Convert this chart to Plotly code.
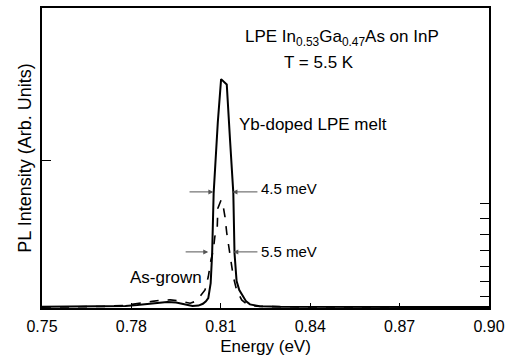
import plotly.graph_objects as go

# Data
energy_yb = [0.750, 0.770, 0.778, 0.782, 0.786, 0.789, 0.792, 0.795, 0.798, 0.8005, 0.8025, 0.804, 0.805,
             0.8058, 0.8066, 0.8071, 0.8076, 0.809, 0.8101, 0.8120, 0.8131, 0.8142, 0.8146, 0.8153, 0.8162,
             0.8170, 0.8185, 0.8198, 0.8230, 0.8300, 0.9000]
intensity_yb = [0.004, 0.005, 0.007, 0.010, 0.015, 0.018, 0.020, 0.018, 0.012, 0.007, 0.008, 0.014, 0.022,
                0.033, 0.083, 0.183, 0.383, 0.62, 0.763, 0.745, 0.56, 0.383, 0.183, 0.09, 0.06,
                0.045, 0.022, 0.012, 0.006, 0.004, 0.003]

energy_asgrown = [0.750, 0.770, 0.778, 0.783, 0.787, 0.790, 0.793, 0.796, 0.7985, 0.7997, 0.8015, 0.803,
                  0.8047, 0.8058, 0.8067, 0.8075, 0.808, 0.8088, 0.809, 0.8101, 0.8108, 0.8114, 0.812,
                  0.8131, 0.8142, 0.8153, 0.817, 0.8188, 0.822, 0.830, 0.900]
intensity_asgrown = [0.003, 0.005, 0.009, 0.015, 0.022, 0.026, 0.027, 0.024, 0.019, 0.016, 0.022, 0.038,
                     0.06, 0.104, 0.16, 0.193, 0.238, 0.266, 0.332, 0.36, 0.34, 0.304, 0.25,
                     0.183, 0.104, 0.06, 0.027, 0.012, 0.006, 0.004, 0.003]

x_ticks = [0.75, 0.78, 0.81, 0.84, 0.87, 0.90]
x_tick_labels = ["0.75", "0.78", "0.81", "0.84", "0.87", "0.90"]
left_ticks = [0.493]
right_ticks = [0.038, 0.09, 0.138, 0.191, 0.246, 0.297, 0.349]

FONT = "Liberation Sans, Arial, sans-serif"

fig = go.Figure()
fig.add_trace(go.Scatter(x=energy_asgrown, y=intensity_asgrown, mode="lines",
                         line=dict(color="black", width=1.6, dash="dash"), showlegend=False, hoverinfo="skip"))
fig.add_trace(go.Scatter(x=energy_yb, y=intensity_yb, mode="lines",
                         line=dict(color="black", width=2), showlegend=False, hoverinfo="skip"))
# dummy trace for the right-hand axis
fig.add_trace(go.Scatter(x=[0.75], y=[0], yaxis="y2", mode="markers", marker=dict(opacity=0),
                         showlegend=False, hoverinfo="skip"))

annotations = [
    dict(x=0.8507, y=0.90, text="LPE In<sub>0.53</sub>Ga<sub>0.47</sub>As on InP", showarrow=False,
         xanchor="center", yanchor="middle", font=dict(size=17)),
    dict(x=0.843, y=0.817, text="T = 5.5 K", showarrow=False, xanchor="center", yanchor="middle",
         font=dict(size=17)),
    dict(x=0.8154, y=0.613, text="Yb-doped LPE melt", showarrow=False, xanchor="left", yanchor="middle",
         font=dict(size=17)),
    dict(x=0.7789, y=0.103, text="As-grown", showarrow=False, xanchor="left", yanchor="middle",
         font=dict(size=17)),
    dict(x=0.8228, y=0.40, text="4.5 meV", showarrow=False, xanchor="left", yanchor="middle",
         font=dict(size=15)),
    dict(x=0.8228, y=0.19, text="5.5 meV", showarrow=False, xanchor="left", yanchor="middle",
         font=dict(size=15)),
]
arrows = [
    (0.7990, 0.8075, 0.387),
    (0.8228, 0.8139, 0.387),
    (0.7977, 0.8058, 0.187),
    (0.8228, 0.8142, 0.187),
]
for tail, tip, yv in arrows:
    annotations.append(dict(x=tip, y=yv, ax=tail, ay=yv, xref="x", yref="y", axref="x", ayref="y",
                            showarrow=True, arrowhead=2, arrowsize=1, arrowwidth=1, arrowcolor="#555",
                            text=""))

fig.update_layout(
    width=511, height=364,
    margin=dict(l=42, r=22, t=8, b=56, autoexpand=False),
    paper_bgcolor="white", plot_bgcolor="white",
    font=dict(family=FONT, color="black", size=15),
    annotations=annotations,
    xaxis=dict(range=[0.75, 0.90], tickvals=x_ticks, ticktext=x_tick_labels, ticks="inside",
               ticklen=5, tickwidth=1, tickcolor="black", showgrid=False, zeroline=False,
               showline=True, linecolor="black", linewidth=1.5, mirror=True, automargin=False,
               tickfont=dict(size=16), ticklabelstandoff=3,
               title=dict(text="Energy (eV)", font=dict(size=17), standoff=6)),
    yaxis=dict(range=[0, 1], tickvals=left_ticks, ticks="inside", ticklen=9, tickwidth=1,
               tickcolor="black", showticklabels=False, showgrid=False, zeroline=False,
               showline=True, linecolor="black", linewidth=1.5, mirror=True, automargin=False,
               title=dict(text="PL Intensity (Arb. Units)", font=dict(size=18), standoff=4)),
    yaxis2=dict(range=[0, 1], overlaying="y", side="right", tickvals=right_ticks, ticks="inside",
                ticklen=9, tickwidth=1, tickcolor="black", showticklabels=False, showgrid=False,
                zeroline=False, showline=True, linecolor="black", linewidth=1.5, automargin=False),
)

fig.write_html("out.html", config={"displayModeBar": False},
               post_script="document.body.style.margin='0';")
